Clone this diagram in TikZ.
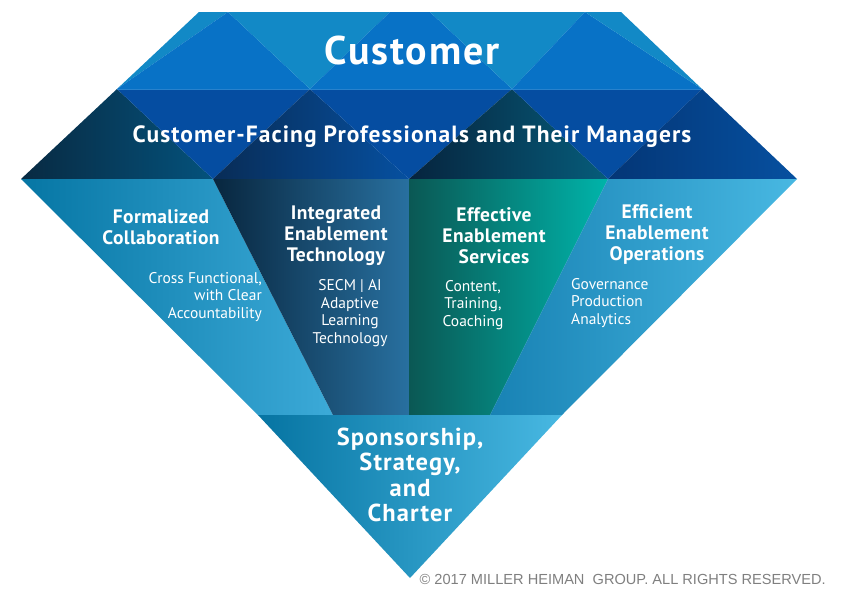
\documentclass[tikz,border=0pt]{standalone}
\usepackage{fontspec}
\setmainfont{PT Sans}
\newfontfamily\copyfont{Liberation Sans}
\newfontfamily\widefont{PT Sans}[LetterSpace=4.5]
\newfontfamily\semiwidefont{PT Sans}[LetterSpace=2]
\definecolor{topLight}{HTML}{1289C6}
\definecolor{topDark}{HTML}{0872C6}
\definecolor{midBlue}{HTML}{054DA1}
\definecolor{copyGray}{HTML}{7F7F7F}
\definecolor{seamBlue}{RGB}{40,130,205}
\definecolor{rA1}{RGB}{8,42,66}\definecolor{rA2}{RGB}{4,82,124}
\definecolor{rB1}{RGB}{8,44,86}\definecolor{rB2}{RGB}{6,80,160}
\definecolor{rC1}{RGB}{6,36,62}\definecolor{rC2}{RGB}{6,92,122}
\definecolor{rD1}{RGB}{4,54,118}\definecolor{rD2}{RGB}{6,80,160}
\definecolor{pA1}{RGB}{6,118,164}\definecolor{pA2}{RGB}{60,170,216}
\definecolor{pB1}{RGB}{8,38,62}\definecolor{pB2}{RGB}{40,112,160}
\definecolor{pC1}{RGB}{10,88,84}\definecolor{pC2}{RGB}{0,180,170}
\definecolor{pD1}{RGB}{24,130,180}\definecolor{pD2}{RGB}{72,184,226}
\definecolor{pE1}{RGB}{6,116,162}\definecolor{pE2}{RGB}{72,184,226}
\tikzset{
  big/.style={text=white, font=\widefont\bfseries\fontsize{40}{42}\selectfont, inner sep=0pt},
  band/.style={text=white, font=\widefont\bfseries\fontsize{23.5}{26}\selectfont, inner sep=0pt},
  ptitle/.style={text=white, font=\semiwidefont\bfseries\fontsize{19.5}{21}\selectfont, align=center, inner sep=0pt},
  psub/.style={text=white, font=\fontsize{15.5}{17.5}\selectfont, inner sep=0pt},
  bottomtitle/.style={text=white, font=\widefont\bfseries\fontsize{24.5}{25.5}\selectfont, align=center, inner sep=0pt},
}
\begin{document}
\begin{tikzpicture}[x=1pt,y=-1pt]
\useasboundingbox (0,0) rectangle (852,597);
% key points
\coordinate (T1) at (199,12); \coordinate (T2) at (228,12); \coordinate (T3) at (390,12);
\coordinate (T4) at (430,12); \coordinate (T5) at (585,12); \coordinate (T6) at (621,12);
\coordinate (M0) at (117,89); \coordinate (M1) at (310,89); \coordinate (M2) at (512,89); \coordinate (M3) at (702,89);
\coordinate (B0) at (21,179); \coordinate (B1) at (213,179); \coordinate (B2) at (409,179);
\coordinate (B3) at (608,179); \coordinate (B4) at (797,179);
\coordinate (L0) at (258,415); \coordinate (L1) at (333,415); \coordinate (L2) at (409,415);
\coordinate (L3) at (490,415); \coordinate (L4) at (562,415);
\coordinate (tip) at (410,578);
% top row
\fill[topLight] (T1) -- (T2) -- (M0) -- cycle;
\fill[topDark] (T2) -- (M1) -- (M0) -- cycle;
\fill[topLight] (T2) -- (T3) -- (M1) -- cycle;
\fill[topDark] (M1) -- (T3) -- (T4) -- (M2) -- cycle;
\fill[topLight] (T4) -- (T5) -- (M2) -- cycle;
\fill[topDark] (T5) -- (M3) -- (M2) -- cycle;
\fill[topLight] (T5) -- (T6) -- (M3) -- cycle;
% second row
\shade[left color=rA1, right color=rA2] (B0) -- (M0) -- (B1) -- cycle;
\fill[midBlue] (M0) -- (M1) -- (B1) -- cycle;
\shade[left color=rB1, right color=rB2] (B1) -- (M1) -- (B2) -- cycle;
\fill[midBlue] (M1) -- (M2) -- (B2) -- cycle;
\shade[left color=rC1, right color=rC2] (B2) -- (M2) -- (B3) -- cycle;
\fill[midBlue] (M2) -- (M3) -- (B3) -- cycle;
\shade[left color=rD1, right color=rD2] (B3) -- (M3) -- (B4) -- cycle;
\draw[line width=0.8pt, seamBlue] (M0) -- (M3);
% third row panels
\shade[left color=pA1, right color=pA2] (B0) -- (B1) -- (L1) -- (L0) -- cycle;
\shade[left color=pB1, right color=pB2] (B1) -- (B2) -- (L2) -- (L1) -- cycle;
\shade[left color=pC1, right color=pC2] (B2) -- (B3) -- (L3) -- (L2) -- cycle;
\shade[left color=pD1, right color=pD2] (B3) -- (B4) -- (L4) -- (L3) -- cycle;
% bottom
\shade[left color=pE1, right color=pE2] (L0) -- (L4) -- (tip) -- cycle;
% texts
\node[big] (cust) at (412,50) {Customer};
\node[band] (cfp) at (412,137) {Customer-Facing Professionals and Their Managers};
\node[ptitle] (fc) at (161,227) {Formalized\\Collaboration};
\node[psub, anchor=east, align=right] (fcs) at (262,297) {Cross Functional,\\with Clear\\Accountability};
\node[ptitle] (iet) at (336,236) {Integrated\\Enablement\\Technology};
\node[psub, align=center] (iets) at (350,313) {SECM | AI\\Adaptive\\Learning\\Technology};
\node[ptitle] (ees) at (494,236) {Effective\\Enablement\\Services};
\node[psub, align=center] (eess) at (473,305) {Content,\\Training,\\Coaching};
\node[ptitle] (eeo) at (657,235) {Efficient\\Enablement\\Operations};
\node[psub, anchor=west, align=left] (eeos) at (571,303) {Governance\\Production\\Analytics};
\node[bottomtitle] (ssc) at (410,475) {Sponsorship,\\Strategy,\\and\\Charter};
\node[text=copyGray, font=\copyfont\fontsize{14.6}{17}\selectfont, anchor=east, inner sep=0pt] (copy) at (826,579) {© 2017 MILLER HEIMAN\ \ GROUP. ALL RIGHTS RESERVED.};
\end{tikzpicture}
\end{document}
